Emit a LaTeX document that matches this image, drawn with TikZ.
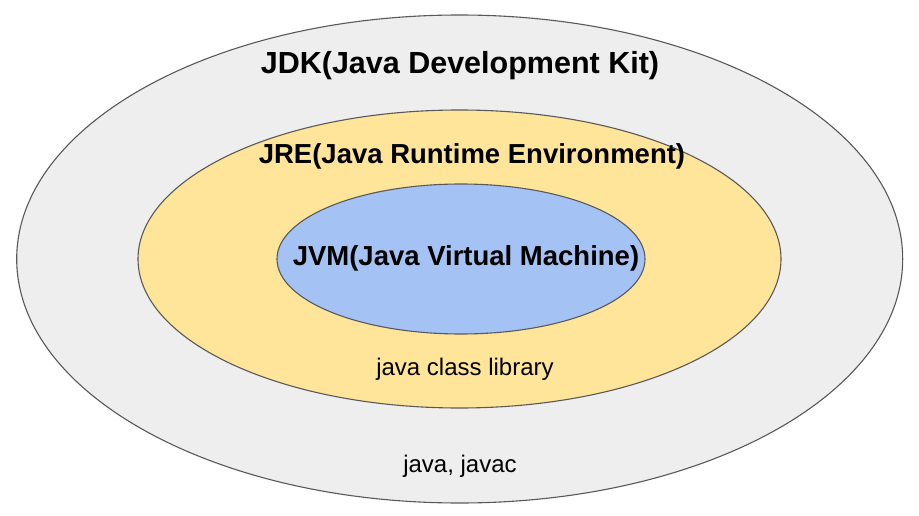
\documentclass[tikz,border=0pt]{standalone}
\usepackage{fontspec}
\setmainfont{Liberation Sans}
\usetikzlibrary{shapes.geometric}
\definecolor{jdkfill}{HTML}{EEEEEE}
\definecolor{jrefill}{HTML}{FFE599}
\definecolor{jvmfill}{HTML}{A4C2F4}
\definecolor{edge}{HTML}{595959}
\tikzset{
  ring/.style={draw=edge, line width=1.1pt},
  title/.style={font=\bfseries\fontsize{#1}{#1}\selectfont, text=black, inner sep=0pt},
  label/.style={font=\fontsize{24}{24}\selectfont, text=black, inner sep=0pt}
}
\begin{document}
\begin{tikzpicture}[x=1pt,y=-1pt]
\useasboundingbox (0,0) rectangle (919,516);
\fill[white] (0,0) rectangle (919,516);
\draw[ring, fill=jdkfill] (459.7,259) ellipse [x radius=443, y radius=244];
\draw[ring, fill=jrefill] (459.5,259) ellipse [x radius=321.5, y radius=149];
\draw[ring, fill=jvmfill] (461,259) ellipse [x radius=184, y radius=75];
\node[title=30.5] (jdk) at (460,65.5) {JDK(Java Development Kit)};
\node[title=27.5] (jre) at (472,156) {JRE(Java Runtime Environment)};
\node[title=27.5] (jvm) at (466,258.5) {JVM(Java Virtual Machine)};
\node[label] (lib) at (465,369) {java class library};
\node[label] (tools) at (460,466) {java, javac};
\end{tikzpicture}
\end{document}
